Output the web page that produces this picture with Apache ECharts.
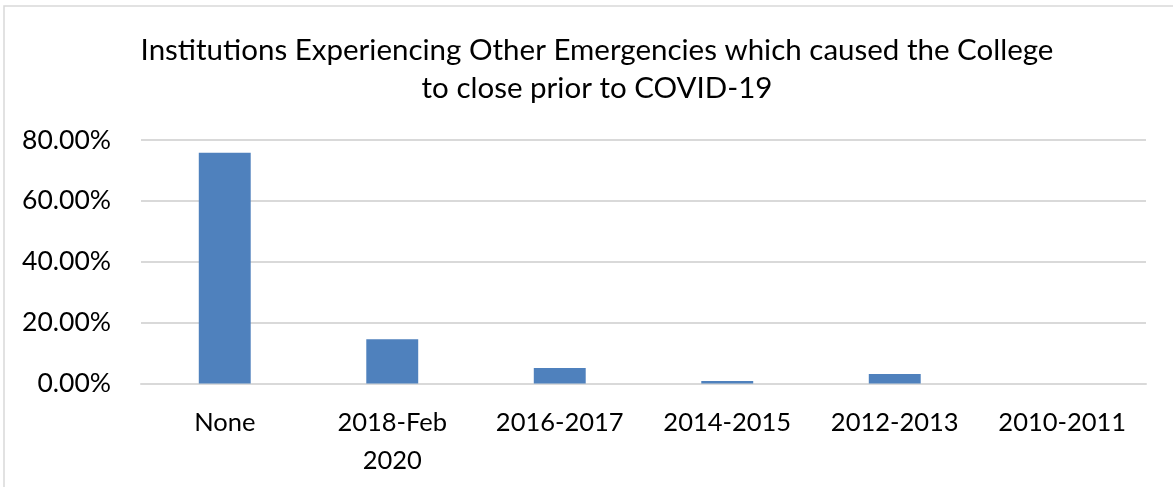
<!DOCTYPE html>
<html>
<head>
<meta charset="utf-8">
<script src="https://cdn.jsdelivr.net/npm/echarts@6/dist/echarts.min.js"></script>
<style>
  html, body { margin: 0; padding: 0; background: #fff; }
  #chart { width: 1173px; height: 487px; }
</style>
</head>
<body>
<div id="chart"></div>
<script>
// Year ranges in which colleges closed for an emergency other than COVID-19
const categories = ['None', '2018-Feb\n2020', '2016-2017', '2014-2015', '2012-2013', '2010-2011'];
// Share of institutions (percent)
const shares = [75.8, 14.55, 5.1, 0.8, 3.1, 0];
const yTicks = { min: 0, max: 80, interval: 20 };

const FONT = 'Lato, "Open Sans", sans-serif';
const chart = echarts.init(document.getElementById('chart'));
chart.setOption({
  backgroundColor: '#fff',
  animation: false,
  title: {
    text: 'Institutions Experiencing Other Emergencies which caused the College\nto close prior to COVID-19',
    left: 592,
    top: 26,
    textAlign: 'center',
    textStyle: { fontFamily: FONT, fontSize: 29.5, fontWeight: 'normal', color: '#000', lineHeight: 38 }
  },
  graphic: [{
    type: 'rect',
    shape: { x: 4, y: 6, width: 1180, height: 500 },
    style: { fill: 'none', stroke: '#d9d9d9', lineWidth: 1.5 },
    silent: true
  }],
  grid: { left: 141, right: 27, top: 140, bottom: 103.5 },
  xAxis: {
    type: 'category',
    data: categories,
    axisLine: { lineStyle: { color: '#d9d9d9', width: 2 } },
    axisTick: { show: false },
    axisLabel: { fontFamily: FONT, fontSize: 25.5, color: '#000', margin: 20, lineHeight: 38 }
  },
  yAxis: {
    type: 'value',
    min: yTicks.min,
    max: yTicks.max,
    interval: yTicks.interval,
    axisLine: { show: false },
    axisTick: { show: false },
    splitLine: { lineStyle: { color: '#d9d9d9', width: 2 } },
    axisLabel: {
      fontFamily: FONT, fontSize: 26.5, color: '#000', margin: 30,
      formatter: v => v.toFixed(2) + '%'
    }
  },
  series: [{
    type: 'bar',
    data: shares,
    barWidth: '31%',
    itemStyle: { color: '#4F81BD' }
  }]
});
</script>
</body>
</html>
